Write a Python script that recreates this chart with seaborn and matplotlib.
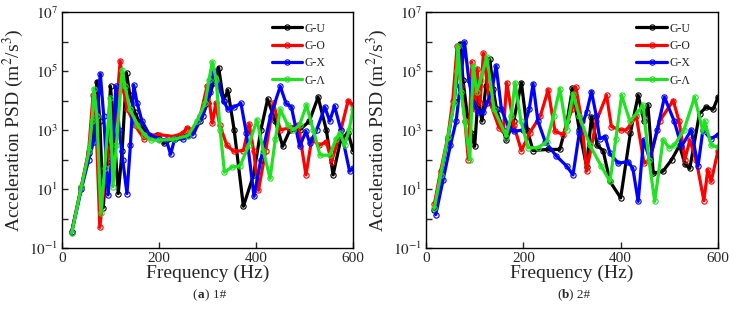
import numpy as np
import pandas as pd
import matplotlib
matplotlib.use("Agg")
import matplotlib.pyplot as plt
import seaborn as sns
from matplotlib.ticker import LogLocator, FuncFormatter, FixedLocator, NullLocator

# ---------------- data ----------------
series_names = ["G-U", "G-O", "G-X", "G-\u039b"]
series_colors = ["#000000", "#ff0000", "#0000ff", "#22e022"]

# Panel (a) 1#
a_U_f = [20, 40, 55, 65, 72, 78, 85, 92, 100, 108, 116, 124, 133, 140, 150, 165, 185, 196, 210, 230, 260, 285, 300, 312, 323, 333, 342, 355, 374, 395, 410, 424, 440, 455, 470, 490, 510, 528, 545, 559, 575, 590, 600]
a_U_v = [0.35, 12, 160, 1e3, 4.4e4, 2e3, 2.3, 80, 3e4, 600, 7, 200, 8.5e4, 1.5e4, 4e3, 1.2e3, 600, 700, 350, 500, 700, 2e3, 8e3, 4e4, 1.3e5, 1e4, 2.2e4, 1e3, 2.6, 30, 1e3, 1.1e4, 2e3, 280, 1e3, 1e3, 2e3, 1.3e4, 1e3, 30, 500, 800, 200]

a_O_f = [20, 40, 55, 64, 70, 78, 88, 99, 110, 120, 126, 135, 150, 169, 185, 200, 230, 250, 258, 270, 285, 299, 310, 317, 325, 340, 354, 374, 386, 395, 405, 420, 436, 450, 470, 487, 503, 515, 530, 545, 556, 575, 590, 600]
a_O_v = [0.35, 12, 200, 1.5e4, 2e3, 0.5, 20, 250, 2e3, 2.2e5, 2.5e4, 5e3, 1.5e3, 500, 650, 700, 600, 800, 1.2e3, 1e3, 3e3, 3e4, 1.7e3, 8e3, 1.5e3, 300, 190, 200, 1.6e3, 200, 9, 200, 8e3, 1e3, 1.2e3, 1.5e3, 30, 500, 300, 400, 85, 1e3, 1e4, 7e3]

a_X_f = [20, 40, 55, 65, 72, 79, 86, 95, 104, 111, 118, 125, 134, 141, 148, 155, 165, 180, 200, 215, 224, 232, 250, 270, 290, 305, 313, 322, 333, 342, 355, 369, 380, 396, 410, 430, 450, 462, 473, 490, 503, 511, 525, 542, 552, 562, 575, 593, 600]
a_X_v = [0.35, 10, 100, 400, 3e3, 8e4, 3e3, 6.3, 200, 3e4, 1e3, 100, 7, 300, 3.3e4, 8e3, 2e3, 700, 500, 450, 150, 480, 500, 700, 3e3, 2e4, 1e5, 3.5e4, 1e4, 5e3, 6e3, 8e3, 800, 5.6, 100, 3e3, 3e4, 8e3, 6e3, 280, 900, 350, 1e3, 6e3, 2e3, 6.5e3, 1e3, 40, 50]

a_A_f = [20, 40, 56, 62, 66, 72, 80, 88, 99, 105, 112, 124, 130, 140, 155, 170, 183, 200, 230, 260, 278, 295, 303, 310, 318, 326, 335, 350, 367, 385, 402, 415, 429, 440, 450, 465, 477, 490, 504, 518, 532, 552, 565, 573, 583, 592, 600]
a_A_v = [0.32, 12, 200, 2e3, 2.5e4, 3e3, 1.5, 50, 1.2e4, 12, 300, 1.1e5, 3e4, 5e3, 1.5e3, 700, 460, 450, 480, 650, 2e3, 8e3, 5e4, 2e5, 5e4, 1e3, 37, 55, 60, 300, 2.2e3, 200, 23, 500, 5e3, 1.5e3, 1e3, 1.5e3, 7e3, 1e3, 140, 140, 500, 800, 300, 1e3, 5e3]

# Panel (b) 2#
b_U_f = [17, 30, 45, 58, 65, 70, 76, 85, 93, 100, 107, 115, 123, 131, 138, 145, 165, 180, 196, 208, 220, 250, 275, 290, 301, 315, 330, 340, 352, 364, 378, 400, 420, 436, 448, 456, 467, 487, 505, 521, 532, 542, 562, 576, 590, 600]
b_U_v = [2, 30, 500, 1e4, 1e5, 8.5e5, 5e4, 3e3, 800, 280, 1.3e4, 2e3, 3e4, 2.6e5, 2.5e4, 5e3, 450, 2e3, 4e4, 1e3, 200, 220, 220, 2e3, 2.6e4, 1e3, 57, 2.8e3, 300, 200, 18, 5, 800, 1.5e4, 2e3, 7e3, 34, 40, 100, 300, 70, 50, 3.6e3, 6e3, 5e3, 1.3e4]

b_O_f = [17, 30, 45, 55, 64, 72, 80, 87, 94, 100, 105, 111, 118, 130, 150, 159, 166, 180, 196, 213, 235, 251, 265, 282, 300, 308, 320, 330, 350, 371, 381, 400, 412, 432, 448, 460, 480, 508, 520, 532, 542, 555, 571, 579, 586, 600]
b_O_v = [3, 40, 600, 1e4, 7e5, 3e4, 2e3, 100, 2e5, 5e3, 1.2e5, 8e3, 4e5, 1e4, 1.2e3, 1e3, 4e4, 1.5e3, 200, 800, 3e3, 2.3e4, 900, 700, 5e3, 2.8e4, 2e3, 40, 2e3, 1.5e4, 1.3e3, 1e3, 1e3, 3e3, 75, 100, 2e3, 1e4, 2e3, 100, 450, 100, 4, 45, 18, 200]

b_X_f = [20, 35, 50, 62, 70, 79, 88, 97, 107, 118, 125, 135, 144, 155, 170, 180, 200, 212, 220, 230, 245, 268, 289, 302, 315, 330, 340, 350, 357, 368, 378, 395, 415, 425, 436, 447, 460, 475, 490, 510, 525, 545, 559, 569, 585, 600]
b_X_v = [1.35, 20, 300, 2e3, 3e4, 9.5e5, 5e4, 8e3, 4e3, 4e3, 8e3, 2e4, 1.5e5, 5e3, 1.2e3, 900, 1e3, 5e3, 3.7e4, 2e3, 400, 130, 60, 30, 800, 4e3, 2e4, 3e3, 500, 600, 160, 75, 85, 50, 3.8, 460, 100, 1e3, 1.3e4, 2e3, 280, 1e3, 60, 1e3, 500, 700]

b_A_f = [17, 30, 45, 58, 63, 66, 72, 80, 90, 97, 104, 112, 125, 140, 165, 175, 183, 195, 210, 230, 248, 262, 275, 289, 302, 315, 337, 360, 378, 390, 402, 419, 435, 446, 458, 470, 487, 500, 510, 530, 552, 569, 573, 586, 600]
b_A_v = [2.2, 30, 600, 8e3, 1e5, 7e5, 2e4, 2e3, 100, 1.5e5, 2e4, 5e4, 3e5, 5e3, 600, 3e3, 4e4, 2e3, 250, 250, 400, 3e3, 2.5e4, 1e3, 1.7e4, 3e3, 300, 60, 18, 500, 1.5e4, 2e3, 4e3, 7e3, 100, 3.8, 460, 250, 300, 1e3, 1.3e4, 900, 2e3, 300, 270]

x_ticks = [0, 200, 400, 600]
captions = [("a", " 1#"), ("b", " 2#")]

panels = [
    [(a_U_f, a_U_v), (a_O_f, a_O_v), (a_X_f, a_X_v), (a_A_f, a_A_v)],
    [(b_U_f, b_U_v), (b_O_f, b_O_v), (b_X_f, b_X_v), (b_A_f, b_A_v)],
]

# ---------------- style ----------------
sns.set_theme(style="ticks")
plt.rcParams["font.family"] = ["Liberation Serif", "DejaVu Serif"]
plt.rcParams["mathtext.fontset"] = "stix"
plt.rcParams["axes.edgecolor"] = "black"
plt.rcParams["axes.linewidth"] = 1.0

fig = plt.figure(figsize=(7.33, 3.13), dpi=100)
W, H = 733, 313
axes_px = [(62, 353), (426, 718)]
top_px, bot_px = 12, 248


def odd_fmt(v, pos):
    e = int(round(np.log10(v)))
    if e % 2 != 0:
        return r"$10^{%d}$" % e
    return ""


for i, (x0, x1) in enumerate(axes_px):
    ax = fig.add_axes([x0 / W, 1 - bot_px / H, (x1 - x0) / W, (bot_px - top_px) / H])
    for (f, v), name, c in zip(panels[i], series_names, series_colors):
        df = pd.DataFrame({"Frequency": f, "PSD": v})
        sns.lineplot(data=df, x="Frequency", y="PSD", ax=ax, color=c, lw=2.3,
                     marker="o", markersize=3.8, markerfacecolor="none",
                     markeredgecolor=c, markeredgewidth=0.8, label=name,
                     estimator=None, sort=False, legend=False)
    ax.set_yscale("log")
    ax.set_xlim(0, 600)
    ax.set_ylim(1e-1, 1e7)
    ax.xaxis.set_major_locator(FixedLocator(x_ticks))
    ax.xaxis.set_minor_locator(NullLocator())
    ax.yaxis.set_major_locator(LogLocator(base=10, numticks=20))
    ax.yaxis.set_minor_locator(NullLocator())
    ax.yaxis.set_major_formatter(FuncFormatter(odd_fmt))
    ax.tick_params(axis="both", direction="in", length=4, width=1,
                   labelsize=11, top=False, right=False, pad=3)
    for sp in ax.spines.values():
        sp.set_visible(True)
        sp.set_color("black")
        sp.set_linewidth(1.0)
    ax.set_xlabel("Frequency (Hz)", fontsize=14, labelpad=0)
    ax.set_ylabel("Acceleration PSD (m$^{2}$/s$^{3}$)", fontsize=14, labelpad=2)
    ax.grid(False)
    ax.legend(loc="upper left", bbox_to_anchor=(0.72, 0.955), frameon=False,
              fontsize=8.5, handlelength=2.6, handletextpad=0.2,
              labelspacing=0.45, borderpad=0, borderaxespad=0, numpoints=1)
    cx = (x0 + x1) / 2 / W
    yc = 1 - 295 / H
    fig.text(cx - 0.014, yc, "(", ha="right", va="center", fontsize=9.5)
    fig.text(cx - 0.014, yc, captions[i][0], ha="left", va="center",
             fontsize=9.5, fontweight="bold")
    fig.text(cx - 0.004, yc, ")" + captions[i][1], ha="left", va="center", fontsize=9.5)

fig.savefig("out.png", dpi=100)
